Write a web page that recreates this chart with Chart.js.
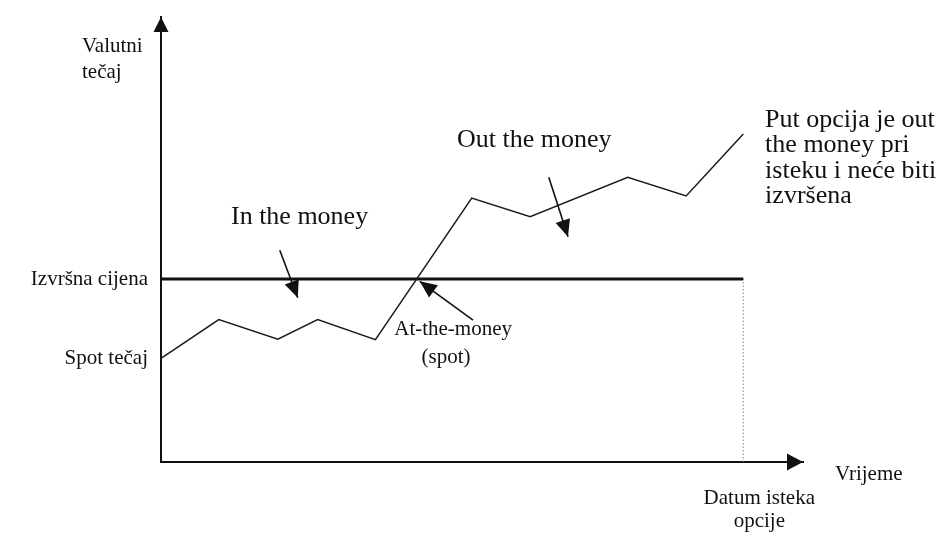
<!DOCTYPE html>
<html>
<head>
<meta charset="utf-8">
<script src="https://cdn.jsdelivr.net/npm/chart.js@4.4.1/dist/chart.umd.min.js"></script>
<style>
  html, body { margin: 0; padding: 0; background: #fff; }
  #wrap { width: 940px; height: 534px; }
</style>
</head>
<body>
<div id="wrap"><canvas id="optionChart"></canvas></div>
<script>
// spot rate path over time (arbitrary units)
const timePoints = [0, 9, 18.2, 24.4, 33.4, 48.4, 57.5, 72.7, 81.8, 90.7];
const spotRate = [23.3, 32, 27.6, 32, 27.5, 59.3, 55.1, 64, 59.8, 73.7];
const strikePrice = 41.1;
const expiryTime = 90.7;
const yTickLabels = ['Spot tečaj', 'Izvršna cijena'];
const xTickLabel = ['Datum isteka', 'opcije'];
const yTitle = ['Valutni', 'tečaj'];
const xTitle = 'Vrijeme';

// annotation texts and pointer arrows, in data units
const notes = [
  { lines: ['In the money'], x: 10.9, y: 53.5, size: 26, align: 'left' },
  { lines: ['Out the money'], x: 46.1, y: 70.8, size: 26, align: 'left' },
  { lines: ['Put opcija je out', 'the money pri', 'isteku i neće biti', 'izvršena'], x: 94.1, y: 75.3, size: 26, align: 'left', step: 25.5 },
  { lines: ['At-the-money'], x: 45.5, y: 28.5, size: 21, align: 'center' },
  { lines: ['(spot)'], x: 44.4, y: 22.2, size: 21, align: 'center' }
];
const pointers = [
  { from: [18.5, 47.6], to: [21.3, 36.9] },
  { from: [60.4, 64.0], to: [63.4, 50.6] },
  { from: [48.6, 31.9], to: [40.3, 40.6] }
];

const FONT = "'Liberation Serif', 'Times New Roman', serif";
const INK = '#111';

function arrowHead(ctx, x1, y1, x2, y2, len, half) {
  const a = Math.atan2(y2 - y1, x2 - x1);
  const bx = x2 - len * Math.cos(a), by = y2 - len * Math.sin(a);
  ctx.beginPath();
  ctx.moveTo(x2, y2);
  ctx.lineTo(bx + half * Math.sin(a), by - half * Math.cos(a));
  ctx.lineTo(bx - half * Math.sin(a), by + half * Math.cos(a));
  ctx.closePath();
  ctx.fill();
}

const decorations = {
  id: 'decorations',
  afterDraw(chart) {
    const ctx = chart.ctx;
    const area = chart.chartArea;
    const xs = chart.scales.x, ys = chart.scales.y;
    ctx.save();
    ctx.fillStyle = INK;
    ctx.strokeStyle = INK;

    // axis arrowheads
    arrowHead(ctx, area.left, area.bottom, area.left, area.top, 15, 7.5);
    arrowHead(ctx, area.left, area.bottom, area.right, area.bottom, 16, 8.5);

    // pointer arrows
    ctx.lineWidth = 1.6;
    pointers.forEach(p => {
      const x1 = xs.getPixelForValue(p.from[0]), y1 = ys.getPixelForValue(p.from[1]);
      const x2 = xs.getPixelForValue(p.to[0]), y2 = ys.getPixelForValue(p.to[1]);
      ctx.beginPath();
      ctx.moveTo(x1, y1);
      ctx.lineTo(x2, y2);
      ctx.stroke();
      arrowHead(ctx, x1, y1, x2, y2, 17, 7.5);
    });

    // annotation texts
    ctx.textBaseline = 'alphabetic';
    notes.forEach(n => {
      ctx.font = n.size + 'px ' + FONT;
      ctx.textAlign = n.align;
      const x = xs.getPixelForValue(n.x), y = ys.getPixelForValue(n.y);
      n.lines.forEach((t, i) => ctx.fillText(t, x, y + i * (n.step || 0)));
    });

    // axis titles
    ctx.font = '21px ' + FONT;
    ctx.textAlign = 'left';
    ctx.fillText(yTitle[0], area.left - 79, area.top + 35);
    ctx.fillText(yTitle[1], area.left - 79, area.top + 61);
    ctx.fillText(xTitle, area.right + 32, area.bottom + 18);
    ctx.restore();
  }
};

const ctxC = document.getElementById('optionChart').getContext('2d');
const optionChart = new Chart(ctxC, {
  type: 'line',
  data: {
    datasets: [
      {
        label: 'Spot tečaj',
        data: timePoints.map((t, i) => ({ x: t, y: spotRate[i] })),
        borderColor: '#1a1a1a',
        borderWidth: 1.5,
        pointRadius: 0,
        tension: 0,
        clip: false
      },
      {
        label: 'Izvršna cijena',
        data: [{ x: 0, y: strikePrice }, { x: expiryTime, y: strikePrice }],
        borderColor: INK,
        borderWidth: 3,
        pointRadius: 0,
        clip: false
      },
      {
        label: 'Datum isteka',
        data: [{ x: expiryTime, y: 0 }, { x: expiryTime, y: strikePrice }],
        borderColor: '#888',
        borderWidth: 1,
        borderDash: [1.5, 2],
        pointRadius: 0,
        clip: false
      }
    ]
  },
  options: {
    responsive: true,
    maintainAspectRatio: false,
    animation: false,
    layout: { padding: { top: 17, right: 137, left: 0, bottom: 0 } },
    plugins: { legend: { display: false }, tooltip: { enabled: false } },
    scales: {
      x: {
        type: 'linear',
        min: 0,
        max: 100,
        grid: { display: false, drawTicks: false, tickLength: 0 },
        border: { display: true, color: INK, width: 2 },
        afterBuildTicks: s => { s.ticks = [{ value: expiryTime }]; },
        afterFit: s => { s.height = 72; s.paddingLeft = 0; s.paddingRight = 0; },
        ticks: {
          callback: () => xTickLabel,
          color: INK,
          font: { family: FONT, size: 21, lineHeight: 1.1 },
          padding: 25,
          labelOffset: 16,
          maxRotation: 0,
          autoSkip: false
        }
      },
      y: {
        type: 'linear',
        min: 0,
        max: 100,
        grid: { display: false, drawTicks: false, tickLength: 0 },
        border: { display: true, color: INK, width: 2 },
        afterBuildTicks: s => { s.ticks = [{ value: spotRate[0] }, { value: strikePrice }]; },
        afterFit: s => { s.width = 161; s.paddingTop = 0; s.paddingBottom = 0; },
        ticks: {
          callback: (v, i) => yTickLabels[i],
          color: INK,
          font: { family: FONT, size: 21 },
          padding: 13,
          autoSkip: false
        }
      }
    }
  },
  plugins: [decorations]
});
</script>
</body>
</html>
